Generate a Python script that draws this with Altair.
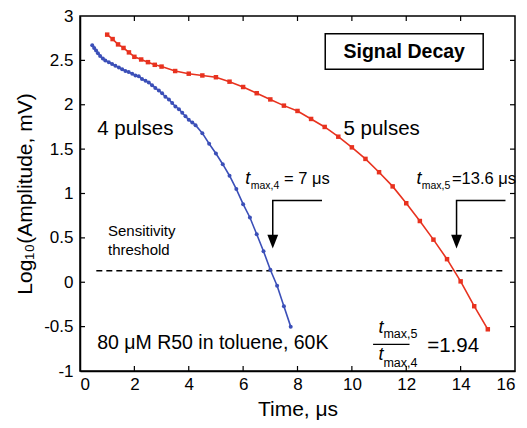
import altair as alt
import pandas as pd

FONT = "Liberation Sans"

# ---- data ----
blue_t = [0.45, 0.52, 0.59, 0.66, 0.74, 0.84, 0.93, 1.06, 1.18, 1.30, 1.43, 1.55, 1.67, 1.79,
          1.92, 2.04, 2.16, 2.28, 2.41, 2.53, 2.65, 2.77, 2.90, 3.02, 3.14, 3.27, 3.39, 3.51,
          3.64, 3.76, 3.88, 4.00, 4.13, 4.25, 4.50, 4.75, 5.00, 5.25, 5.50, 5.75, 6.00, 6.25,
          6.50, 6.75, 7.00, 7.25, 7.50, 7.75]
blue_v = [2.67, 2.64, 2.61, 2.58, 2.55, 2.52, 2.50, 2.48, 2.46, 2.44, 2.42, 2.40, 2.38, 2.37,
          2.35, 2.33, 2.32, 2.29, 2.27, 2.25, 2.22, 2.19, 2.16, 2.13, 2.09, 2.06, 2.02, 1.98,
          1.95, 1.91, 1.87, 1.83, 1.80, 1.77, 1.68, 1.56, 1.45, 1.33, 1.20, 1.05, 0.88, 0.73,
          0.54, 0.35, 0.14, -0.04, -0.27, -0.50]

red_t = [1.0, 1.2, 1.4, 1.6, 1.8, 2.0, 2.25, 2.5, 2.75, 3.0, 3.5, 4.0, 4.5, 5.0, 5.5, 6.0, 6.5,
         7.0, 7.5, 8.0, 8.5, 9.0, 9.5, 10.0, 10.5, 11.0, 11.5, 12.0, 12.5, 13.0, 13.5, 14.0,
         14.5, 15.0]
red_v = [2.79, 2.74, 2.68, 2.64, 2.59, 2.54, 2.51, 2.48, 2.45, 2.43, 2.38, 2.35, 2.33, 2.31,
         2.26, 2.20, 2.13, 2.06, 1.99, 1.93, 1.84, 1.75, 1.64, 1.52, 1.39, 1.24, 1.08, 0.89,
         0.69, 0.48, 0.26, 0.01, -0.27, -0.53]

threshold_t = [0.6, 15.65]
threshold_v = [0.13, 0.13]

x_ticks = [0, 2, 4, 6, 8, 10, 12, 14, 16]
y_ticks = [-1, -0.5, 0, 0.5, 1, 1.5, 2, 2.5, 3]

# arrows: L-shaped shafts and heads
arrow_group = ["a4", "a4", "a4", "a5", "a5", "a5"]
arrow_order = [0, 1, 2, 0, 1, 2]
arrow_t = [8.9, 7.09, 7.09, 15.65, 13.85, 13.85]
arrow_v = [0.92, 0.92, 0.45, 0.92, 0.92, 0.45]
head_t = [7.09, 13.85]
head_v = [0.38, 0.38]

# annotation texts
norm_text = ["4 pulses", "5 pulses", "80 \u03bcM R50 in toluene, 60K", "Sensitivity", "threshold",
             "= 7 \u03bcs", "=13.6 \u03bcs", "=1.94",
             "max,4", "max,5", "max,5", "max,4"]
norm_t = [0.63, 9.69, 0.63, 1.03, 1.03, 7.50, 13.68, 12.77, 6.28, 12.57, 11.16, 11.16]
norm_v = [1.73, 1.73, -0.68, 0.58, 0.36, 1.16, 1.16, -0.72, 1.09, 1.09, -0.58, -0.91]
norm_size = [20.5, 20.5, 19.5, 15, 15, 16.5, 16.5, 20.5, 10.5, 10.5, 12.5, 12.5]

ital_text = ["t", "t", "t", "t"]
ital_t = [6.08, 12.38, 10.98, 10.98]
ital_v = [1.16, 1.16, -0.51, -0.82]

box_t, box_t2, box_v, box_v2 = [9.02], [14.83], [2.80], [2.40]
box_label = ["Signal Decay"]

frac_t, frac_t2, frac_v = [10.78], [12.12], [-0.70]

# ---- tables ----
blue = pd.DataFrame({"t": blue_t, "v": blue_v})
red = pd.DataFrame({"t": red_t, "v": red_v})
thr = pd.DataFrame({"t": threshold_t, "v": threshold_v})
arr = pd.DataFrame({"g": arrow_group, "o": arrow_order, "t": arrow_t, "v": arrow_v})
heads = pd.DataFrame({"t": head_t, "v": head_v})
norm = pd.DataFrame({"t": norm_t, "v": norm_v, "text": norm_text, "s": norm_size})
ital = pd.DataFrame({"t": ital_t, "v": ital_v, "text": ital_text})
box = pd.DataFrame({"t": box_t, "t2": box_t2, "v": box_v, "v2": box_v2, "label": box_label,
                    "tc": [(box_t[0] + box_t2[0]) / 2], "vc": [(box_v[0] + box_v2[0]) / 2]})
frac = pd.DataFrame({"t": frac_t, "t2": frac_t2, "v": frac_v})
xt = pd.DataFrame({"t": x_ticks[1:-1]})
yt = pd.DataFrame({"v": y_ticks[1:-1]})

W, H = 435, 355
xs = alt.Scale(domain=[0, 16], nice=False)
ys = alt.Scale(domain=[-1, 3], nice=False)

x_axis = alt.Axis(values=x_ticks, title="Time, \u03bcs", tickSize=0, labelFontSize=17,
                  titleFontSize=21, titleFontWeight="normal", labelPadding=5,
                  titlePadding=6, grid=False, domainColor="black", domainWidth=1.5,
                  labelColor="black", titleColor="black", labelFont=FONT, titleFont=FONT)
y_axis = alt.Axis(values=y_ticks, title="Log\u2081\u2080(Amplitude, mV)", tickSize=0,
                  labelFontSize=17, titleFontSize=21, titleFontWeight="normal",
                  labelPadding=7, titlePadding=8, grid=False, domainColor="black",
                  domainWidth=1.5, labelColor="black", titleColor="black",
                  labelExpr="toString(datum.value)", labelFont=FONT, titleFont=FONT)


def X(field="t:Q"):
    return alt.X(field, scale=xs, axis=x_axis)


def Y(field="v:Q"):
    return alt.Y(field, scale=ys, axis=y_axis)


thr_layer = alt.Chart(thr).mark_line(color="black", strokeDash=[6, 4], strokeWidth=1.6).encode(X(), Y())

blue_line = alt.Chart(blue).mark_line(color="#3b4fb8", strokeWidth=1.6).encode(X(), Y())
blue_pts = alt.Chart(blue).mark_point(shape="circle", filled=True, size=16, color="#3b4fb8",
                                      opacity=1).encode(X(), Y())
red_line = alt.Chart(red).mark_line(color="#e8321f", strokeWidth=1.6).encode(X(), Y())
red_pts = alt.Chart(red).mark_point(shape="square", filled=True, size=20, color="#e8321f",
                                    opacity=1).encode(X(), Y())

shafts = alt.Chart(arr).mark_line(color="black", strokeWidth=1.5).encode(
    X(), Y(), detail="g:N", order="o:Q")
arrowheads = alt.Chart(heads).mark_point(
    shape="M -0.9 -2.3 L 0.9 -2.3 L 0 0 Z", filled=True, size=144, color="black", opacity=1
).encode(X(), Y())

box_rect = alt.Chart(box).mark_rect(fill="white", stroke="black", strokeWidth=1.5).encode(
    X(), alt.X2("t2:Q"), Y(), alt.Y2("v2:Q"))
box_text = alt.Chart(box).mark_text(font=FONT, fontSize=19.5, fontWeight="bold", color="black",
                                    align="center", baseline="middle").encode(
    X("tc:Q"), Y("vc:Q"), text="label:N")

norm_layer = alt.Chart(norm).mark_text(font=FONT, color="black", align="left",
                                       baseline="middle").encode(
    X(), Y(), text="text:N", size=alt.Size("s:Q", scale=None, legend=None))
ital_layer = alt.Chart(ital).mark_text(font=FONT, fontStyle="italic", fontSize=18, color="black",
                                       align="left", baseline="middle").encode(
    X(), Y(), text="text:N")

frac_line = alt.Chart(frac).mark_rule(color="black", strokeWidth=1.3).encode(
    X(), alt.X2("t2:Q"), Y())

tick_b = alt.Chart(xt).mark_rule(color="black", strokeWidth=1.2).encode(
    X(), y=alt.value(H), y2=alt.value(H - 5))
tick_t = alt.Chart(xt).mark_rule(color="black", strokeWidth=1.2).encode(
    X(), y=alt.value(0), y2=alt.value(5))
tick_l = alt.Chart(yt).mark_rule(color="black", strokeWidth=1.2).encode(
    Y(), x=alt.value(0), x2=alt.value(5))
tick_r = alt.Chart(yt).mark_rule(color="black", strokeWidth=1.2).encode(
    Y(), x=alt.value(W), x2=alt.value(W - 5))

chart = alt.layer(
    thr_layer, blue_line, blue_pts, red_line, red_pts, shafts, arrowheads,
    box_rect, box_text, norm_layer, ital_layer, frac_line,
    tick_b, tick_t, tick_l, tick_r,
).properties(
    width=W, height=H,
    autosize=alt.AutoSizeParams(type="none"),
    padding={"left": 80, "top": 16, "right": 12, "bottom": 57},
    background="white",
).configure_view(stroke="black", strokeWidth=1.5)

chart.save("out.html", embed_options={"renderer": "svg", "actions": False})
